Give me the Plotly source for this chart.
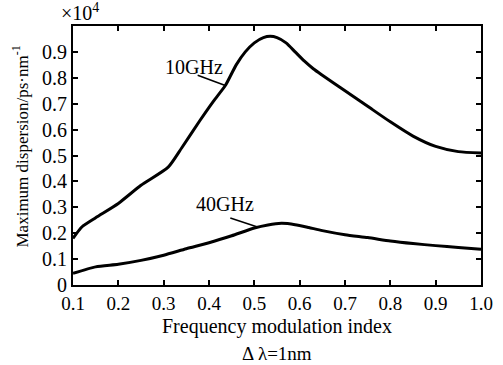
import plotly.graph_objects as go

# Frequency modulation index (x) and maximum dispersion (x10^4 ps/nm)
x_10g = [0.1, 0.12, 0.15, 0.2, 0.25, 0.31, 0.34, 0.38, 0.41, 0.436, 0.46, 0.48, 0.5,
         0.52, 0.535, 0.55, 0.57, 0.59, 0.61, 0.63, 0.65, 0.7, 0.75, 0.8, 0.85, 0.9,
         0.95, 1.0]
y_10g = [0.18, 0.225, 0.26, 0.315, 0.385, 0.455, 0.53, 0.635, 0.71, 0.77, 0.85, 0.9,
         0.935, 0.955, 0.96, 0.955, 0.935, 0.9, 0.865, 0.835, 0.81, 0.75, 0.69, 0.63,
         0.575, 0.535, 0.515, 0.51]

x_40g = [0.1, 0.15, 0.2, 0.25, 0.3, 0.35, 0.4, 0.45, 0.5, 0.53, 0.56, 0.59, 0.62,
         0.65, 0.7, 0.75, 0.8, 0.85, 0.9, 0.95, 1.0]
y_40g = [0.045, 0.07, 0.08, 0.095, 0.115, 0.14, 0.163, 0.19, 0.22, 0.232, 0.238,
         0.233, 0.222, 0.21, 0.194, 0.183, 0.17, 0.16, 0.152, 0.145, 0.138]

x_ticks = [0.1, 0.2, 0.3, 0.4, 0.5, 0.6, 0.7, 0.8, 0.9, 1.0]
x_ticktext = ["0.1", "0.2", "0.3", "0.4", "0.5", "0.6", "0.7", "0.8", "0.9", "1.0"]
y_ticks = [0, 0.1, 0.2, 0.3, 0.4, 0.5, 0.6, 0.7, 0.8, 0.9]
y_ticktext = ["0", "0.1", "0.2", "0.3", "0.4", "0.5", "0.6", "0.7", "0.8", "0.9"]

# label anchors (text centre) and the curve points they point at
label_10g = (0.366, 0.842)
point_10g = (0.436, 0.77)
tail_10g = (0.375, 0.81)
label_40g = (0.436, 0.313)
point_40g = (0.507, 0.224)
tail_40g = (0.447, 0.259)

FONT = "Liberation Serif"

fig = go.Figure()
fig.add_trace(go.Scatter(x=x_10g, y=y_10g, mode="lines", name="10GHz",
                         line=dict(color="black", width=3, shape="spline", smoothing=0.6)))
fig.add_trace(go.Scatter(x=x_40g, y=y_40g, mode="lines", name="40GHz",
                         line=dict(color="black", width=3, shape="spline", smoothing=0.6)))

axis_common = dict(showline=True, linecolor="black", linewidth=2, mirror="ticks",
                   ticks="inside", ticklen=5, tickwidth=1.5, tickcolor="black",
                   showgrid=False, zeroline=False)

fig.update_xaxes(range=[0.1, 1.0], tickvals=x_ticks, ticktext=x_ticktext,
                 ticklabeloverflow="allow",
                 tickfont=dict(family=FONT, size=19, color="black"), **axis_common)
fig.update_yaxes(range=[0, 1.0], tickvals=y_ticks, ticktext=y_ticktext,
                 tickfont=dict(family=FONT, size=20, color="black"), **axis_common)

shapes = [
    dict(type="line", xref="x", yref="y", x0=tail_10g[0], y0=tail_10g[1],
         x1=point_10g[0], y1=point_10g[1], line=dict(color="black", width=1.5)),
    dict(type="line", xref="x", yref="y", x0=tail_40g[0], y0=tail_40g[1],
         x1=point_40g[0], y1=point_40g[1], line=dict(color="black", width=1.5)),
]

annotations = [
    dict(x=label_10g[0], y=label_10g[1], xref="x", yref="y", text="10GHz", showarrow=False,
         font=dict(family=FONT, size=20, color="black")),
    dict(x=label_40g[0], y=label_40g[1], xref="x", yref="y", text="40GHz", showarrow=False,
         font=dict(family=FONT, size=20, color="black")),
    dict(x=0.5, y=0, xref="paper", yref="paper", text="Frequency modulation index",
         showarrow=False, yanchor="middle", yshift=-41,
         font=dict(family=FONT, size=20, color="black")),
    dict(x=0.5, y=0, xref="paper", yref="paper", text="Δ λ=1nm",
         showarrow=False, yanchor="middle", yshift=-68,
         font=dict(family=FONT, size=19, color="black")),
    dict(x=0, y=0.5, xref="paper", yref="paper",
         text="Maximum dispersion/ps·nm<sup>-1</sup>", textangle=-90,
         showarrow=False, xanchor="center", yanchor="middle", xshift=-53, yshift=9,
         font=dict(family=FONT, size=17, color="black")),
    dict(x=0, y=1, xref="paper", yref="paper", text="×10<sup>4</sup>",
         showarrow=False, xanchor="left", yanchor="middle", xshift=-14, yshift=14,
         font=dict(family=FONT, size=20, color="black")),
]

fig.update_layout(width=503, height=365, margin=dict(l=73, r=10, t=26, b=80),
                  plot_bgcolor="white", paper_bgcolor="white", showlegend=False,
                  font=dict(family=FONT, size=17, color="black"),
                  annotations=annotations, shapes=shapes)

fig.write_html("out.html")
